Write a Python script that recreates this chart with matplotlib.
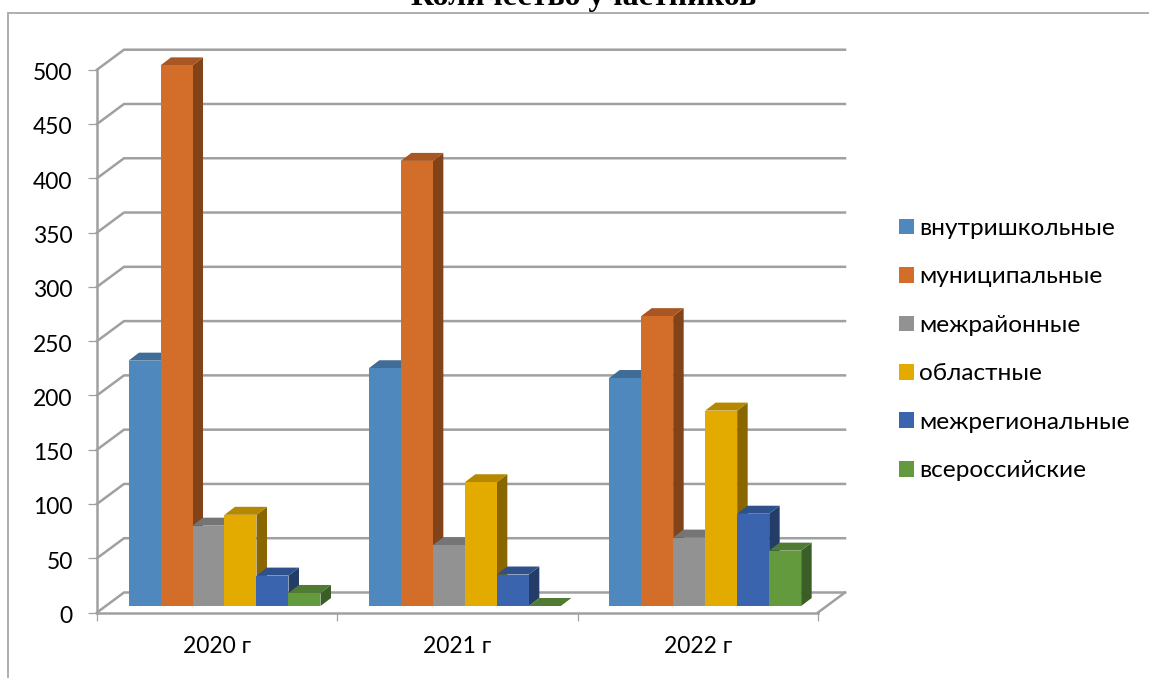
import matplotlib
matplotlib.use('Agg')
import matplotlib.pyplot as plt
from matplotlib.lines import Line2D
from matplotlib.patches import Patch, Polygon, Rectangle
from matplotlib.transforms import ScaledTranslation

# Values
years = ['2020 г', '2021 г', '2022 г']
series_names = ['внутришкольные', 'муниципальные', 'межрайонные',
                'областные', 'межрегиональные', 'всероссийские']
vnutri = [226, 219, 210]
munic = [498, 410, 267]
mezhrayon = [74, 56, 63]
oblast = [84, 114, 180]
mezhreg = [28, 29, 85]
vseros = [12, 0, 51]
y_ticks = [0, 50, 100, 150, 200, 250, 300, 350, 400, 450, 500]

series_values = [vnutri, munic, mezhrayon, oblast, mezhreg, vseros]
front_colors = ['#4f88bd', '#d26d2a', '#929292', '#e3aa00', '#3a65ae', '#639a3e']
top_colors = ['#3f6d97', '#a85722', '#757575', '#b68800', '#2e518b', '#4f7b32']
side_colors = ['#2f5271', '#82431a', '#575757', '#896600', '#233d68', '#3b5d26']

W, H = 1149, 678
GRAY = '#a0a0a0'
FONT = ['Lato', 'Open Sans', 'DejaVu Sans']
plt.rcParams['font.family'] = FONT

fig = plt.figure(figsize=(W / 100, H / 100), dpi=100)
# front plane of the 3d box, in pixels
left, right, bottom, top = 97, 818, 612.5, 69.7
ax = fig.add_axes([left / W, 1 - bottom / H, (right - left) / W, (bottom - top) / H])
ax.set_xlim(0, 3)
ax.set_ylim(0, 500)
ax.patch.set_visible(False)

px_x = 3 / (right - left)
px_y = 500 / (bottom - top)

# wall offset and bar offset, px
wall_dx, wall_dy = 27 * px_x, 20 * px_y
bar_dx, bar_dy = 10.5 * px_x, 8 * px_y
bar_w = 32 * px_x
bar_base = 6.5 * px_y
group_pad = 31.5 * px_x

# chart border: only the top and left edges show in the original
border_x = [7.5 / W, 7.5 / W, 1]
border_y = [0, 1 - 12.5 / H, 1 - 12.5 / H]
fig.add_artist(Line2D(border_x, border_y, transform=fig.transFigure,
                      color='#a8a8a8', lw=1.3, solid_joinstyle='miter'))

# back wall grid lines and the slanted floor/side lines
for v in y_ticks:
    ax.plot([0, wall_dx, 3 + wall_dx], [v, v + wall_dy, v + wall_dy],
            color=GRAY, lw=1.8, clip_on=False, zorder=1, solid_joinstyle='miter')
ax.plot([3, 3 + wall_dx], [0, wall_dy], color=GRAY, lw=1.8, clip_on=False, zorder=1)

# bars
for g in range(len(years)):
    for s, vals in enumerate(series_values):
        v = vals[g]
        x0 = g + group_pad + s * bar_w
        x1 = x0 + bar_w
        y0 = bar_base
        y1 = bar_base + v
        z = 3 + s
        ax.add_patch(Polygon([(x1, y0), (x1 + bar_dx, y0 + bar_dy),
                              (x1 + bar_dx, y1 + bar_dy), (x1, y1)],
                             fc=side_colors[s], ec='none', zorder=z, clip_on=False))
        ax.add_patch(Polygon([(x0, y1), (x0 + bar_dx, y1 + bar_dy),
                              (x1 + bar_dx, y1 + bar_dy), (x1, y1)],
                             fc=top_colors[s], ec='none', zorder=z, clip_on=False))
        ax.add_patch(Rectangle((x0, y0), bar_w, v, fc=front_colors[s], ec='none',
                               zorder=z, clip_on=False))

for side in ['top', 'right']:
    ax.spines[side].set_visible(False)
for side in ['left', 'bottom']:
    ax.spines[side].set_color(GRAY)
    ax.spines[side].set_linewidth(1.8)
    ax.spines[side].set_zorder(2)

ax.set_yticks(y_ticks)
ax.set_xticks([0, 1, 2, 3])
ax.set_xticklabels([])
ax.set_xticks([0.5, 1.5, 2.5], labels=years, minor=True)
ax.tick_params(axis='y', length=6.5, width=0.9, color=GRAY, labelsize=16.5, pad=11, labelcolor='black')
ax.tick_params(axis='x', which='major', length=6, width=0.9, color=GRAY)
ax.tick_params(axis='x', which='minor', length=0, labelsize=16.5, pad=17, labelcolor='black')

# y labels sit a little under their ticks in the original
shift = ScaledTranslation(0, -2 / 100, fig.dpi_scale_trans)
for lab in ax.get_yticklabels():
    lab.set_transform(lab.get_transform() + shift)

handles = [Patch(fc=c, ec='none') for c in front_colors]
leg = ax.legend(handles, series_names, loc='upper left',
                bbox_to_anchor=(899 / W, 1 - 218 / H), bbox_transform=fig.transFigure,
                frameon=False, fontsize=17.6, borderpad=0, borderaxespad=0,
                handlelength=0.61, handleheight=0.61, handletextpad=0.21, labelspacing=1.124)

# title is cut off by the top of the picture in the original
fig.text(583.5 / W, 1 - 5 / H, 'Количество участников', family='Liberation Serif',
         fontweight='bold', fontsize=23, ha='center', va='baseline', color='black')

fig.savefig('out.png', dpi=100)
